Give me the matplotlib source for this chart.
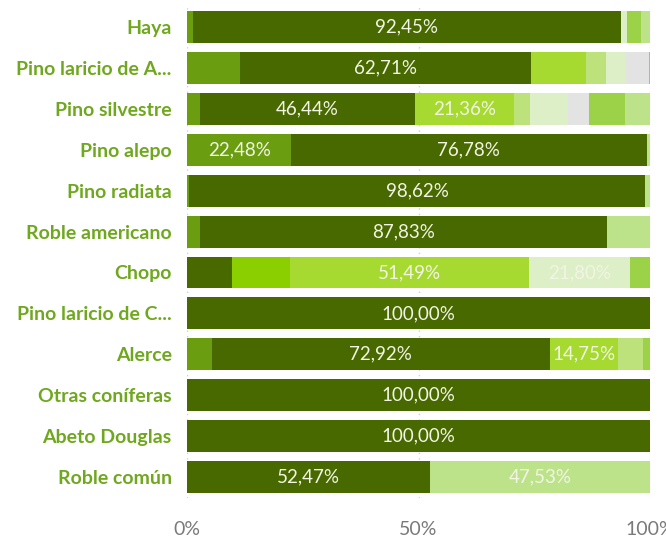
import matplotlib
matplotlib.use("Agg")
import matplotlib.pyplot as plt
import numpy as np

# categories (top to bottom)
categories = ["Haya", "Pino laricio de A...", "Pino silvestre", "Pino alepo",
              "Pino radiata", "Roble americano", "Chopo", "Pino laricio de C...",
              "Alerce", "Otras coníferas", "Abeto Douglas", "Roble común"]

# share (%) of each series per category, same order as categories
medium    = [1.20, 11.50, 2.80, 22.48, 0.40, 2.90, 0.00, 0, 5.40, 0, 0, 0.00]
dark      = [92.45, 62.71, 46.44, 76.78, 98.62, 87.83, 9.70, 100, 72.92, 100, 100, 52.47]
vivid     = [0, 0, 0, 0, 0, 0, 12.60, 0, 0, 0, 0, 0]
bright    = [0, 11.90, 21.36, 0, 0, 0, 51.49, 0, 14.75, 0, 0, 0]
lightlime = [0, 4.30, 3.50, 0, 0, 0, 0, 0, 5.40, 0, 0, 0]
pale      = [1.30, 4.30, 8.10, 0, 0, 0, 21.80, 0, 0, 0, 0, 0]
grey      = [0, 5.00, 4.70, 0, 0, 0, 0, 0, 0, 0, 0, 0]
green     = [3.20, 0.29, 7.60, 0, 0, 0, 4.41, 0, 1.53, 0, 0, 0]
light     = [1.85, 0, 5.50, 0.74, 0.98, 9.27, 0, 0, 0, 0, 0, 47.53]

series = [medium, dark, vivid, bright, lightlime, pale, grey, green, light]
colors = ["#6a9e10", "#486900", "#8ccf00", "#a6da30", "#bde27c",
          "#dcefc6", "#e3e3e3", "#9bd248", "#bde38a"]

tick_vals = [0, 50, 100]
tick_labels = ["0%", "50%", "100%"]

fig = plt.figure(figsize=(6.66, 5.42), dpi=100)
ax = fig.add_axes([0.2808, 0.0821, 0.6952, 0.9059])

y = np.arange(len(categories))
left = np.zeros(len(categories))
for vals, col in zip(series, colors):
    vals = np.array(vals, dtype=float)
    ax.barh(y, vals, left=left, height=0.78, color=col, zorder=2)
    for yi, (l, v) in enumerate(zip(left, vals)):
        if v >= 14:
            ax.text(l + v / 2, yi, f"{v:.2f}%".replace(".", ","),
                    ha="center", va="center", color="#f2f4e4", fontsize=13.5,
                    family="Lato", zorder=3)
    left += vals

ax.set_xlim(0, 100)
ax.set_ylim(11.5, -0.5)
ax.set_yticks(y)
ax.set_yticklabels(categories, fontsize=14, fontweight="bold", color="#6fa81e",
                   family="Lato")
ax.set_xticks(tick_vals)
ax.set_xticklabels(tick_labels, fontsize=14, color="#7a7a7a", family="Lato")
ax.tick_params(axis="y", length=0, pad=11)
ax.tick_params(axis="x", length=0, pad=17)
ax.grid(axis="x", color="#cfcfcf", linestyle=(0, (1, 3)), linewidth=1, zorder=0)
for s in ax.spines.values():
    s.set_visible(False)

fig.savefig("out.png", dpi=100)
